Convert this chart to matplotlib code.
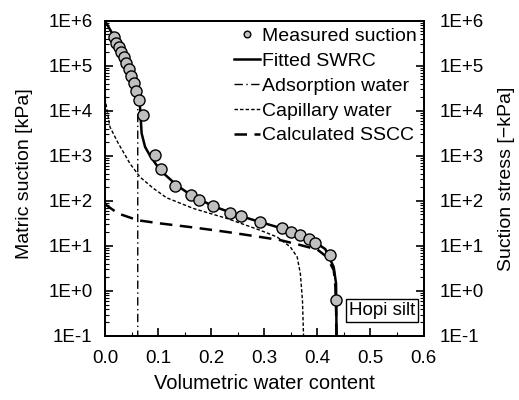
import numpy as np
import matplotlib.pyplot as plt
from matplotlib.ticker import FuncFormatter, LogLocator, MultipleLocator

plt.rcParams["font.family"] = ["Liberation Sans", "DejaVu Sans"]
plt.rcParams["font.size"] = 13.5

# measured suction (volumetric water content, log10 of kPa)
meas_theta = [0.0175, 0.0208, 0.0258, 0.0308, 0.0364, 0.0402, 0.0447, 0.0496, 0.0542,
              0.0591, 0.0636, 0.0717, 0.0938, 0.1051, 0.1326, 0.1617, 0.1779, 0.2043,
              0.2358, 0.2566, 0.2925, 0.3334, 0.3509, 0.3679, 0.3836, 0.3962, 0.4232, 0.4358]
meas_logs = [5.644, 5.511, 5.422, 5.304, 5.187, 5.053, 4.92, 4.771, 4.609,
             4.438, 4.238, 3.898, 3.022, 2.698, 2.342, 2.127, 2.031, 1.882,
             1.733, 1.660, 1.527, 1.393, 1.311, 1.238, 1.149, 1.076, 0.793, -0.207]

# fitted SWRC
swrc_theta = [0.0, 0.0175, 0.0308, 0.0447, 0.0542, 0.0636, 0.066, 0.069, 0.0755, 0.085,
              0.104, 0.135, 0.1617, 0.2043, 0.2566, 0.2925, 0.3334, 0.3679, 0.3962,
              0.415, 0.4308, 0.4353, 0.4358, 0.4362]
swrc_logs = [6.0, 5.64, 5.30, 4.92, 4.61, 4.24, 4.09, 3.50, 3.20, 3.00,
             2.68, 2.35, 2.13, 1.88, 1.66, 1.53, 1.39, 1.24, 1.08,
             0.93, 0.533, 0.165, -0.5, -1.0]

# adsorption water
ads_theta = [0.0, 0.0175, 0.0308, 0.0447, 0.0542, 0.0600, 0.0617, 0.0617]
ads_logs = [6.0, 5.64, 5.30, 4.92, 4.61, 4.40, 4.10, -1.0]

# capillary water
cap_theta = [0.0, 0.0094, 0.025, 0.047, 0.066, 0.091, 0.116, 0.167, 0.230, 0.292,
             0.324, 0.349, 0.362, 0.368, 0.372, 0.374]
cap_logs = [4.28, 3.64, 3.28, 2.83, 2.53, 2.28, 2.07, 1.83, 1.61, 1.35,
            1.20, 0.98, 0.756, 0.387, -0.207, -1.0]

# calculated SSCC
sscc_theta = [0.0, 0.003, 0.025, 0.062, 0.104, 0.167, 0.230, 0.292, 0.330, 0.368,
              0.400, 0.418, 0.431, 0.434, 0.4355, 0.436]
sscc_logs = [1.95, 1.90, 1.72, 1.57, 1.50, 1.41, 1.31, 1.20, 1.13, 1.02,
             0.92, 0.756, 0.46, 0.09, -0.5, -1.0]

fig = plt.figure(figsize=(5.19, 4.0), dpi=100)
ax = fig.add_axes([0.2023, 0.16, 0.6137, 0.788])

ax.plot(swrc_theta, 10 ** np.array(swrc_logs), color="black", lw=1.8, zorder=3,
        label="Fitted SWRC")
ax.plot(ads_theta, 10 ** np.array(ads_logs), color="black", lw=1.0, ls=(0, (6, 2.5, 1, 2.5)),
        zorder=2, label="Adsorption water")
ax.plot(cap_theta, 10 ** np.array(cap_logs), color="black", lw=1.0, ls=(0, (2.5, 1.5)),
        zorder=2, label="Capillary water")
ax.plot(sscc_theta, 10 ** np.array(sscc_logs), color="black", lw=1.8, ls=(0, (5, 3)),
        zorder=2, label="Calculated SSCC")
ax.plot(meas_theta, 10 ** np.array(meas_logs), ls="none", marker="o", ms=8,
        mfc="#c0c0c0", mec="black", mew=1.0, zorder=4, label="Measured suction")

ax.set_yscale("log")
ax.set_xlim(0, 0.6)
ax.set_ylim(0.1, 1e6)

fmt = FuncFormatter(lambda v, p: "1E%+d" % int(round(np.log10(v))))
ax.xaxis.set_major_locator(MultipleLocator(0.1))
ax.xaxis.set_minor_locator(MultipleLocator(0.05))
ax.xaxis.set_major_formatter(FuncFormatter(lambda v, p: "%.1f" % v))
ax.yaxis.set_major_locator(LogLocator(base=10, numticks=20))
ax.yaxis.set_minor_locator(LogLocator(base=10, subs=np.arange(2, 10), numticks=20))
ax.yaxis.set_major_formatter(fmt)
ax.tick_params(which="major", direction="in", length=6, width=1.2)
ax.tick_params(which="minor", direction="in", length=3, width=0.8)
ax.tick_params(axis="y", which="major", pad=9)
ax.tick_params(axis="x", which="major", pad=10)
ax.tick_params(axis="x", which="both", top=False)

ax.set_xlabel("Volumetric water content", fontsize=14.5, labelpad=5)
ax.set_ylabel("Matric suction [kPa]", fontsize=14)
ax.yaxis.set_label_coords(-0.226, 0.515)

ax2 = ax.twinx()
ax2.set_yscale("log")
ax2.set_ylim(0.1, 1e6)
ax2.yaxis.set_major_locator(LogLocator(base=10, numticks=20))
ax2.yaxis.set_minor_locator(LogLocator(base=10, subs=np.arange(2, 10), numticks=20))
ax2.yaxis.set_major_formatter(fmt)
ax2.tick_params(which="major", direction="in", length=6, width=1.2, pad=11.5)
ax2.tick_params(which="minor", direction="in", length=3, width=0.8)
ax2.set_ylabel("Suction stress [\u2212kPa]", fontsize=14, labelpad=10)

for a in (ax, ax2):
    for s in a.spines.values():
        s.set_linewidth(1.3)

handles, labels = ax.get_legend_handles_labels()
order = [4, 0, 1, 2, 3]
ax.legend([handles[i] for i in order], [labels[i] for i in order], loc="upper right",
          frameon=False, handlelength=1.35, handletextpad=0.1, labelspacing=0.37,
          borderaxespad=0.05, borderpad=0.3, markerscale=0.6, fontsize=14)

ax.text(0.5226, 10 ** -0.43, "Hopi silt", ha="center", va="center", fontsize=13.5,
        bbox=dict(boxstyle="square,pad=0.15", fc="white", ec="black", lw=1.0), zorder=5)

fig.savefig("out.png", dpi=100)
